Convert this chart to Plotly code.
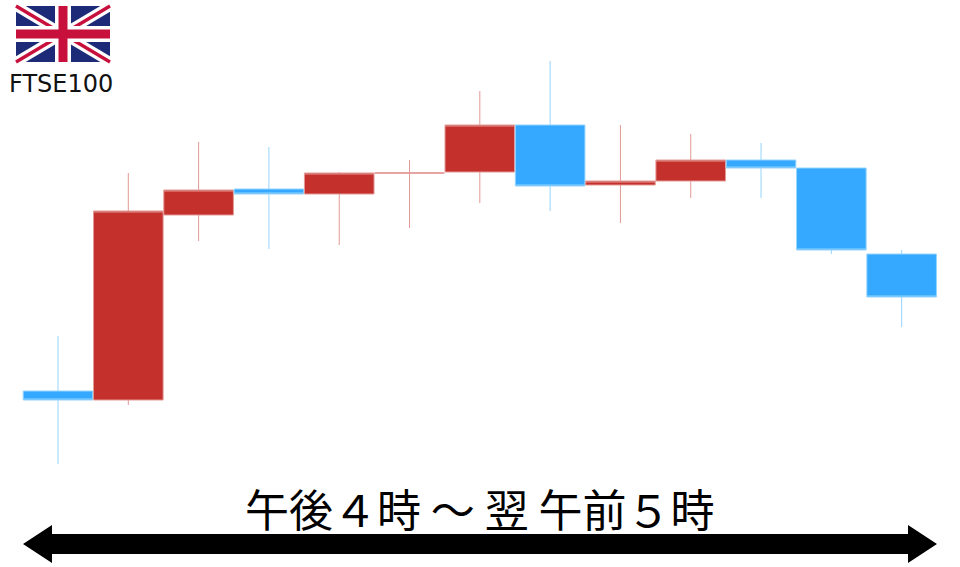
import plotly.graph_objects as go

W, H = 960, 567

# Session index (hourly candles) and OHLC levels
session = list(range(13))
opens = [176, 167, 352, 378, 373, 394, 395, 442, 382, 386, 407, 399, 313]
highs = [231, 394, 425, 420, 395, 407, 476, 506, 442, 433, 424, 399, 317]
lows = [103, 162, 326, 318, 322, 339, 364, 356, 344, 369, 369, 313, 240]
closes = [167, 356, 377, 373, 394, 394, 442, 381, 386, 407, 399, 317, 270]

UP_FILL = "#c4302b"
UP_EDGE = "#e39995"
DOWN_FILL = "#35a9ff"
DOWN_EDGE = "#95d4ff"

title_text = "午後４時 ～ 翌 午前５時"
flag_label = "FTSE100"


def px(x):
    return x / W


def py(y):
    return 1 - y / H


def poly(points, fill):
    path = "M " + " L ".join(f"{px(x):.5f},{py(y):.5f}" for x, y in points) + " Z"
    return dict(type="path", xref="paper", yref="paper", path=path,
                fillcolor=fill, line=dict(width=0), layer="above")


def band(x0, y0, x1, y1, half, fill):
    dx, dy = x1 - x0, y1 - y0
    n = (dx * dx + dy * dy) ** 0.5
    ox, oy = -dy / n * half, dx / n * half
    return poly([(x0 + ox, y0 + oy), (x1 + ox, y1 + oy), (x1 - ox, y1 - oy), (x0 - ox, y0 - oy)], fill)


# Union Jack
FL, FR, FT, FB = 16, 110, 6, 62
CX, CY = (FL + FR) / 2, (FT + FB) / 2
NAVY, RED = "#1c2a78", "#c8103c"
shapes = [poly([(FL, FT), (FR, FT), (FR, FB), (FL, FB)], NAVY)]
shapes += [band(FL, FT, FR, FB, 5, "white"), band(FL, FB, FR, FT, 5, "white")]
shapes += [band(FL, FT, CX, CY, 1.7, RED), band(CX, CY, FR, FB, 1.7, RED),
           band(FL, FB, CX, CY, 1.7, RED), band(CX, CY, FR, FT, 1.7, RED)]
shapes += [poly([(CX - 8, FT), (CX + 8, FT), (CX + 8, FB), (CX - 8, FB)], "white"),
           poly([(FL, CY - 8), (FR, CY - 8), (FR, CY + 8), (FL, CY + 8)], "white"),
           poly([(CX - 4.5, FT), (CX + 4.5, FT), (CX + 4.5, FB), (CX - 4.5, FB)], RED),
           poly([(FL, CY - 4.5), (FR, CY - 4.5), (FR, CY + 4.5), (FL, CY + 4.5)], RED)]

# Double-headed arrow
shapes.append(poly([(23, 544), (52, 525), (52, 534), (908, 534), (908, 525), (937, 544),
                    (908, 563), (908, 554), (52, 554), (52, 563)], "black"))

fig = go.Figure(go.Candlestick(
    x=session, open=opens, high=highs, low=lows, close=closes,
    increasing=dict(line=dict(color=UP_EDGE, width=1), fillcolor=UP_FILL),
    decreasing=dict(line=dict(color=DOWN_EDGE, width=1), fillcolor=DOWN_FILL),
    whiskerwidth=0, showlegend=False,
))

fig.update_layout(
    width=W, height=H, margin=dict(l=0, r=0, t=0, b=0),
    paper_bgcolor="white", plot_bgcolor="white", showlegend=False,
    boxgap=0.005, boxgroupgap=0.005,
    xaxis=dict(visible=False, range=[-0.825, 12.83], rangeslider=dict(visible=False), fixedrange=True),
    yaxis=dict(visible=False, range=[0, 567], fixedrange=True),
    shapes=shapes,
    annotations=[
        dict(text=flag_label, xref="paper", yref="paper", x=px(61), y=py(84), showarrow=False,
             xanchor="center", yanchor="middle", font=dict(family="DejaVu Sans", size=24, color="#111")),
        dict(text=title_text, xref="paper", yref="paper", x=px(480), y=py(508), showarrow=False,
             xanchor="center", yanchor="middle", font=dict(family="Noto Sans CJK JP", size=44, color="black")),
    ],
)

fig.write_html("out.html", config=dict(displayModeBar=False),
               post_script="document.body.style.margin='0';document.body.style.overflow='hidden';")
